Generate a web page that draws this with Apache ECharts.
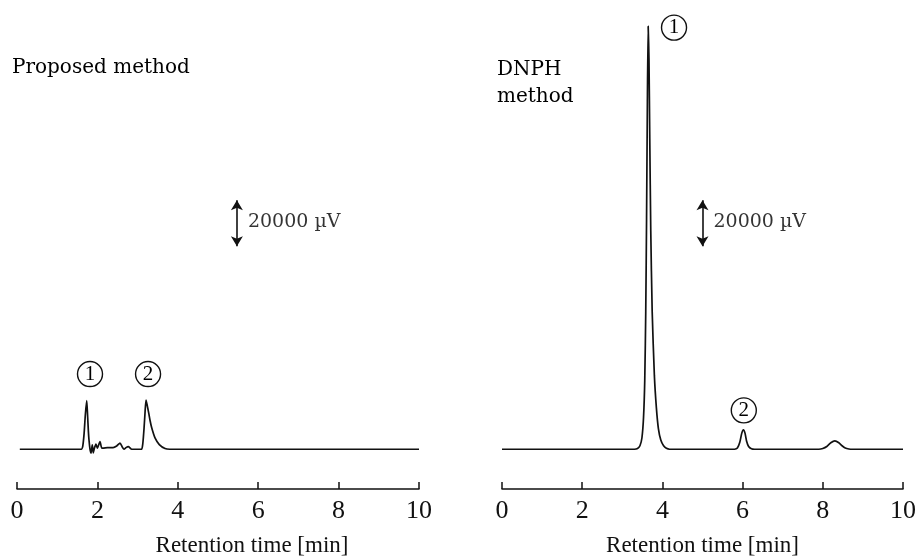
<!DOCTYPE html>
<html>
<head>
<meta charset="utf-8">
<script src="https://cdn.jsdelivr.net/npm/echarts@6/dist/echarts.min.js"></script>
<style>html,body{margin:0;padding:0;background:#fff}#c{width:917px;height:558px}</style>
</head>
<body>
<div id="c"></div>
<script>
// ---- data (retention time [min], signal [µV]) ----
const panelTitles = ['Proposed method', 'DNPH\nmethod'];
const axisTitle = 'Retention time [min]';
const xTicks = [0, 2, 4, 6, 8, 10];
const scaleBarValue = 20000;           // µV
const scaleBarLabel = '20000 µV';
const scaleBarLeft = [5.47, 88300];     // [time, bottom signal]
const scaleBarRight = [5.0, 88300];
const proposedTrace = [
  [0.07,0],[1.55,0],[1.60,0],[1.634,1100],[1.67,7000],[1.70,15000],[1.734,21100],
  [1.755,15000],[1.775,8000],[1.791,4000],[1.816,0],[1.841,-1700],[1.873,1900],
  [1.898,-1600],[1.923,300],[1.965,2200],[1.998,500],[2.065,3300],[2.107,500],
  [2.14,500],[2.25,700],[2.39,700],[2.48,1400],[2.562,2700],[2.62,900],[2.662,0],
  [2.72,800],[2.769,1100],[2.853,0],[3.00,0],[3.10,0],[3.13,2500],[3.16,9000],
  [3.185,16000],[3.209,21400],[3.24,19000],[3.276,15800],[3.31,12500],[3.351,9300],
  [3.433,4900],[3.54,2000],[3.682,300],[3.80,0],[10,0]
];
const dnphTrace = [
  [0,0],[3.30,0],[3.38,300],[3.44,1500],[3.49,5000],[3.53,14000],[3.56,30000],
  [3.585,60000],[3.605,100000],[3.625,150000],[3.645,184000],[3.665,170000],
  [3.685,135000],[3.71,95000],[3.745,60000],[3.80,32000],[3.85,18000],[3.90,9000],
  [3.96,4000],[4.03,1500],[4.10,400],[4.18,0],
  [5.80,0],[5.87,500],[5.93,3000],[5.98,7000],[6.02,8400],[6.06,7000],[6.10,3500],
  [6.15,1200],[6.22,200],[6.30,0],
  [7.90,0],[8.00,300],[8.10,1200],[8.20,2800],[8.30,3600],[8.40,2800],[8.48,1500],
  [8.56,500],[8.65,100],[8.75,0],[10,0]
];
const peakLabelsLeft = [['1', 1.816, 32700], ['2', 3.26, 32700]];
const peakLabelsRight = [['1', 4.29, 183400], ['2', 6.03, 16900]];

// ---- chart ----
const Y_MIN = -17300, Y_MAX = 186700;
const ink = '#111';
const serif = '"Liberation Serif", "Times New Roman", serif';
const serif2 = '"DejaVu Serif", serif';

function xAxis(gridIndex, namePadLeft) {
  return {
    type: 'value', gridIndex, min: 0, max: 10, interval: 2,
    axisLine: { show: true, onZero: false, lineStyle: { color: ink, width: 1.5 } },
    axisTick: { show: true, inside: true, length: 7, lineStyle: { color: ink, width: 1.5 } },
    splitLine: { show: false },
    axisLabel: { color: ink, fontFamily: serif, fontSize: 26, margin: 9,
      formatter: v => String(v) },
    name: axisTitle, nameLocation: 'middle', nameGap: 45,
    nameTextStyle: { color: ink, fontFamily: serif, fontSize: 23, padding: [0, 0, 0, namePadLeft] }
  };
}
function yAxis(gridIndex) {
  return { type: 'value', gridIndex, min: Y_MIN, max: Y_MAX, show: false, splitLine: { show: false } };
}
function trace(data, idx) {
  return {
    type: 'line', xAxisIndex: idx, yAxisIndex: idx, data, showSymbol: false, symbol: 'none',
    smooth: 0.2, clip: false, silent: true,
    lineStyle: { color: ink, width: 1.7 }
  };
}
function scaleBar(pos, idx) {
  return {
    type: 'scatter', xAxisIndex: idx, yAxisIndex: idx, silent: true, symbolSize: 0,
    data: [[pos[0], pos[1] + scaleBarValue / 2 + 600]],
    label: { show: true, position: 'right', distance: 11, formatter: scaleBarLabel,
      color: '#000', fontFamily: serif2, fontSize: 19 },
    markLine: {
      silent: true, animation: false, symbol: ['arrow', 'arrow'], symbolSize: [9, 10],
      label: { show: false },
      lineStyle: { color: ink, width: 1.6, type: 'solid' },
      data: [[{ coord: [pos[0], pos[1]] }, { coord: [pos[0], pos[1] + scaleBarValue] }]]
    }
  };
}
function peakMarks(list, idx) {
  return {
    type: 'scatter', xAxisIndex: idx, yAxisIndex: idx, silent: true, symbol: 'circle', symbolSize: 25,
    clip: false,
    itemStyle: { color: '#fff', borderColor: ink, borderWidth: 1.4, opacity: 1 },
    data: list.map(p => ({ value: [p[1], p[2]], name: p[0] })),
    label: { show: true, position: 'inside', formatter: p => p.name, color: '#000',
      fontFamily: serif, fontSize: 21 }
  };
}

const chart = echarts.init(document.getElementById('c'), null, { renderer: 'canvas' });
chart.setOption({
  animation: false,
  backgroundColor: '#fff',
  title: [
    { text: panelTitles[0], left: 12, top: 54, padding: 0,
      textStyle: { fontFamily: serif2, fontSize: 20, fontWeight: 'normal', color: '#000', lineHeight: 27 } },
    { text: panelTitles[1], left: 497, top: 56, padding: 0,
      textStyle: { fontFamily: serif2, fontSize: 20, fontWeight: 'normal', color: '#000', lineHeight: 27 } }
  ],
  grid: [
    { left: 17, width: 402, top: 20, bottom: 69, containLabel: false, outerBoundsMode: 'none' },
    { left: 502, width: 401, top: 20, bottom: 69, containLabel: false, outerBoundsMode: 'none' }
  ],
  xAxis: [xAxis(0, 68), xAxis(1, 0)],
  yAxis: [yAxis(0), yAxis(1)],
  series: [
    trace(proposedTrace, 0),
    trace(dnphTrace, 1),
    scaleBar(scaleBarLeft, 0),
    scaleBar(scaleBarRight, 1),
    peakMarks(peakLabelsLeft, 0),
    peakMarks(peakLabelsRight, 1)
  ]
});
</script>
</body>
</html>
